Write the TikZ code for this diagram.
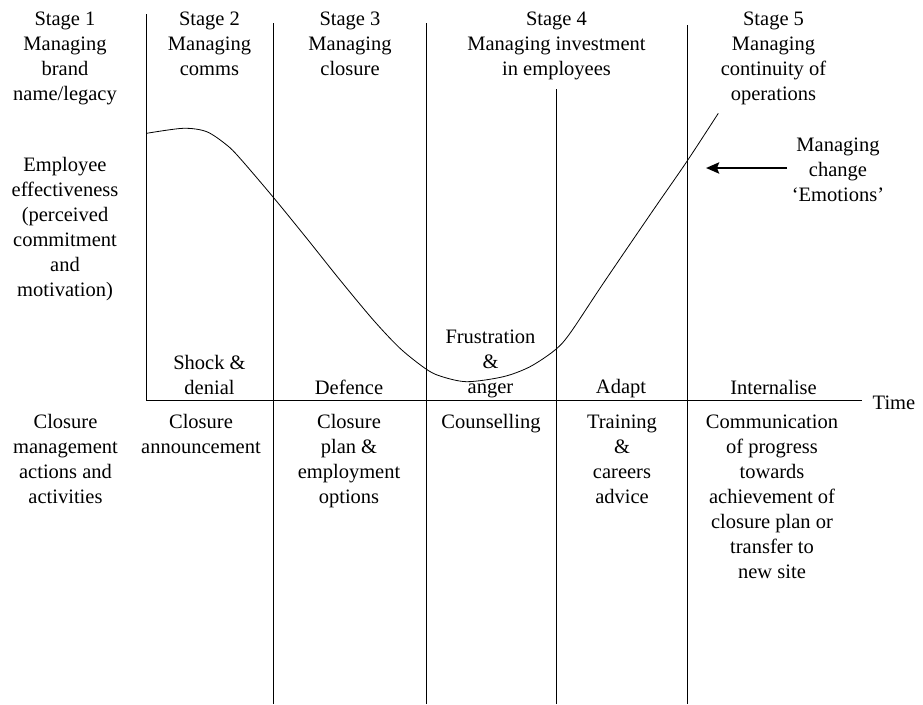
\documentclass[tikz,border=0pt]{standalone}
\usepackage{fontspec}
\setmainfont{Liberation Serif}
\usetikzlibrary{arrows.meta}
\begin{document}
\begin{tikzpicture}[x=1pt,y=-1pt,
  lbl/.style={font=\fontsize{20.5pt}{25pt}\selectfont, align=center, inner sep=0pt, anchor=base},
  rule/.style={line width=0.8pt},
  curveline/.style={line width=0.8pt},
  bigarrow/.style={line width=2.6pt, -{Stealth[length=13pt,width=11pt,inset=2pt]}}]
\useasboundingbox (0,0) rectangle (923,704);
% coordinates for the frame
\coordinate (yTop) at (146.7,14);
\coordinate (orig) at (146.7,400.7);
\coordinate (xEnd) at (861.7,400.7);
\coordinate (v2t) at (273.3,23);  \coordinate (v2b) at (273.3,704);
\coordinate (v3t) at (426,23);    \coordinate (v3b) at (426,704);
\coordinate (v4t) at (556.3,89);  \coordinate (v4b) at (556.3,704);
\coordinate (v5t) at (687.7,25);  \coordinate (v5b) at (687.7,704);
\draw[rule] (yTop) -- (orig) -- (xEnd);
\draw[rule] (v2t) -- (v2b);
\draw[rule] (v3t) -- (v3b);
\draw[rule] (v4t) -- (v4b);
\draw[rule] (v5t) -- (v5b);
% curve
\draw[curveline] plot[smooth, tension=0.5] coordinates {
 (146.7,133.3) (183.3,128.3) (206.7,131.7) (226.7,145) (240,158.3)
 (273.3,197.3) (306.7,238.3) (340,280) (373.3,320) (400,348.3)
 (425,368.3) (440,376) (466.7,381.7) (503.3,376.7) (530,366.7)
 (555,350) (570,333.3) (603.3,283.3) (653.3,210) (686.7,161.7) (718.3,113.3)};
% arrow
\coordinate (arrS) at (787,168);
\coordinate (arrE) at (706,168);
\draw[bigarrow] (arrS) -- (arrE);
% top labels (anchored at baseline of last line)
\node[lbl] (s1) at (65,100.7) {Stage 1\\Managing\\brand\\name/legacy};
\node[lbl] (s2) at (209.5,75.7) {Stage 2\\Managing\\comms};
\node[lbl] (s3) at (350,75.7) {Stage 3\\Managing\\closure};
\node[lbl] (s4) at (556.5,75.7) {Stage 4\\Managing investment\\in employees};
\node[lbl] (s5) at (773.5,100.7) {Stage 5\\Managing\\continuity of\\operations};
\node[lbl] (chg) at (838,201) {Managing\\change\\‘Emotions’};
\node[lbl] (eff) at (65,296.7) {Employee\\effectiveness\\(perceived\\commitment\\and\\motivation)};
% emotion labels
\node[lbl] (shk) at (209.5,394) {Shock \&\\denial};
\node[lbl] (def) at (349,394) {Defence};
\node[lbl] (fru) at (490.5,393) {Frustration\\\&\\anger};
\node[lbl] (ada) at (621,393) {Adapt};
\node[lbl] (int) at (773.5,394) {Internalise};
\node[lbl] (time) at (894,409) {Time};
% bottom labels
\node[lbl] (cma) at (65.5,503.3) {Closure\\management\\actions and\\activities};
\node[lbl] (ann) at (201,453.3) {Closure\\announcement};
\node[lbl] (cpl) at (349,503.3) {Closure\\plan \&\\employment\\options};
\node[lbl] (cou) at (491,428.3) {Counselling};
\node[lbl] (tra) at (622,503.3) {Training\\\&\\careers\\advice};
\node[lbl] (com) at (772,578.3) {Communication\\of progress\\towards\\achievement of\\closure plan or\\transfer to\\new site};
\end{tikzpicture}
\end{document}
